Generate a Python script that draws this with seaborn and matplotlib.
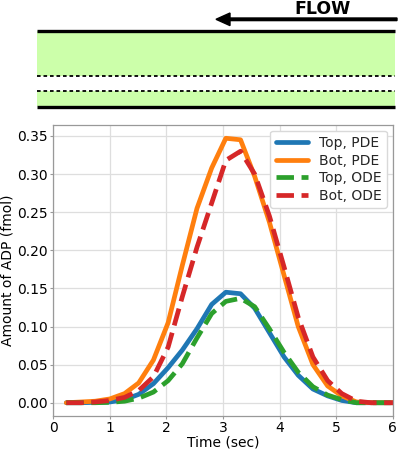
import matplotlib
matplotlib.use("Agg")
import matplotlib.pyplot as plt
import seaborn as sns
import pandas as pd
from matplotlib.patches import Rectangle, FancyArrow

# ---------------- data ----------------
time_sec = [0.23, 0.49, 0.74, 1.00, 1.26, 1.51, 1.77, 2.03, 2.28, 2.54, 2.80, 3.05,
            3.31, 3.56, 3.82, 4.08, 4.33, 4.59, 4.85, 5.10, 5.36, 5.62, 5.87, 6.13]
top_pde = [0.0, 0.0, 0.0005, 0.001, 0.004, 0.011, 0.025, 0.046, 0.069, 0.097, 0.129, 0.145,
           0.143, 0.124, 0.092, 0.060, 0.036, 0.018, 0.009, 0.003, 0.0, 0.0, 0.0, 0.0]
bot_pde = [0.0, 0.001, 0.002, 0.005, 0.012, 0.026, 0.056, 0.105, 0.180, 0.255, 0.308, 0.347,
           0.345, 0.297, 0.237, 0.167, 0.100, 0.050, 0.022, 0.009, 0.001, 0.0, 0.0, 0.0]
top_ode = [0.0, 0.0, 0.0, 0.0005, 0.002, 0.006, 0.014, 0.029, 0.051, 0.085, 0.117, 0.133,
           0.137, 0.126, 0.097, 0.066, 0.040, 0.021, 0.010, 0.004, 0.0, 0.0, 0.0, 0.0]
bot_ode = [0.0, 0.0, 0.001, 0.003, 0.007, 0.016, 0.034, 0.073, 0.139, 0.204, 0.262, 0.318,
           0.330, 0.300, 0.245, 0.178, 0.112, 0.060, 0.029, 0.012, 0.002, 0.0, 0.0, 0.0]

series_names = ["Top, PDE", "Bot, PDE", "Top, ODE", "Bot, ODE"]
series_values = [top_pde, bot_pde, top_ode, bot_ode]
series_colors = ["#1f77b4", "#ff7f0e", "#2ca02c", "#d62728"]
series_dashed = [False, False, True, True]

x_ticks = [0, 1, 2, 3, 4, 5, 6]
y_ticks = [0.00, 0.05, 0.10, 0.15, 0.20, 0.25, 0.30, 0.35]
x_label = "Time (sec)"
y_label = "Amount of ADP (fmol)"
flow_label = "FLOW"

# ---------------- figure ----------------
sns.set_theme(style="whitegrid")
plt.rcParams["font.family"] = ["DejaVu Sans"]

W, H = 398, 449
fig = plt.figure(figsize=(W / 100, H / 100), dpi=100)

# --- top schematic (pixel coordinates) ---
top_h = 115
axd = fig.add_axes([0, 1 - top_h / H, 1, top_h / H])
axd.set_xlim(0, W)
axd.set_ylim(top_h, 0)
axd.axis("off")
green = "#ccffaa"
axd.add_patch(Rectangle((37, 31), 358, 45, facecolor=green, edgecolor="none"))
axd.add_patch(Rectangle((37, 91), 358, 15, facecolor=green, edgecolor="none"))
axd.plot([37, 395], [30.5, 30.5], color="black", lw=2.4, solid_capstyle="butt")
axd.plot([37, 395], [106.5, 106.5], color="black", lw=2.4, solid_capstyle="butt")
axd.plot([37, 395], [75.7, 75.7], color="black", lw=1.3, ls=(0, (2, 1.6)))
axd.plot([37, 395], [90.7, 90.7], color="black", lw=1.3, ls=(0, (2, 1.6)))
axd.add_patch(FancyArrow(397, 19.3, -181, 0, width=2.6, head_width=12.6,
                         head_length=14, length_includes_head=True,
                         color="black"))
axd.text(323, 9.5, flow_label, fontsize=12.5, fontweight="heavy",
         ha="center", va="center", color="black")

# --- main chart ---
ax = fig.add_axes([53.3 / W, 1 - 416 / H, (392.7 - 53.3) / W, (416 - 125) / H])
for name, vals, col, dashed in zip(series_names, series_values, series_colors, series_dashed):
    df = pd.DataFrame({"t": time_sec, "v": vals})
    sns.lineplot(data=df, x="t", y="v", ax=ax, color=col, lw=3.4,
                 ls="--" if dashed else "-", label=name)

ax.set_xlim(0, 6)
ax.set_ylim(-0.0174, 0.3644)
ax.set_xticks(x_ticks)
ax.set_yticks(y_ticks)
ax.set_yticklabels([f"{v:.2f}" for v in y_ticks])
ax.set_xlabel(x_label, fontsize=10, labelpad=0)
ax.set_ylabel(y_label, fontsize=10, labelpad=2)
ax.tick_params(labelsize=10, length=2.5, width=0.8, color="0.6", pad=1.2,
               bottom=True, left=True)
for s in ax.spines.values():
    s.set_color("0.6")
    s.set_linewidth(0.9)
ax.grid(True, color="0.87", lw=0.9)
ax.xaxis.label.set_color("black")
ax.yaxis.label.set_color("black")
for t in ax.get_xticklabels() + ax.get_yticklabels():
    t.set_color("black")

leg = ax.legend(loc="upper right", fontsize=10, handlelength=2.3,
                frameon=True, borderaxespad=0.4, labelspacing=0.25,
                handletextpad=0.8, borderpad=0.4)
leg.get_frame().set_edgecolor("0.85")
leg.get_frame().set_alpha(1.0)

fig.savefig("out.png", dpi=100)
